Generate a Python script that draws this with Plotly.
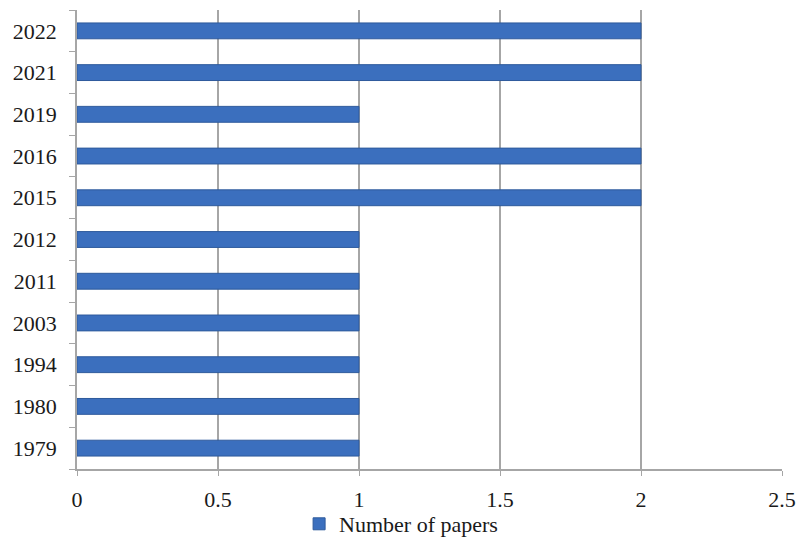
import plotly.graph_objects as go

years = ["1979", "1980", "1994", "2003", "2011", "2012", "2015", "2016", "2019", "2021", "2022"]
papers = [1, 1, 1, 1, 1, 1, 2, 2, 1, 2, 2]
x_ticks = [0, 0.5, 1, 1.5, 2, 2.5]
x_labels = ["0", "0.5", "1", "1.5", "2", "2.5"]

font = "Liberation Serif, Times New Roman, serif"

fig = go.Figure()
fig.add_trace(go.Bar(
    y=years, x=papers, orientation="h", name="Number of papers",
    marker=dict(color="#3B6FBE", line=dict(color="#2E5A9C", width=1)),
    width=0.38, showlegend=True,
))

fig.update_layout(
    width=799, height=537,
    margin=dict(l=77, r=17, t=10, b=68, autoexpand=False),
    paper_bgcolor="white", plot_bgcolor="white",
    font=dict(family=font, size=22, color="#1a1a1a"),
    showlegend=True,
    legend=dict(orientation="h", x=0.502, xanchor="center", xref="container",
                y=1 - 524 / 537, yanchor="middle", yref="container",
                font=dict(family=font, size=22, color="#1a1a1a"),
                itemwidth=30, traceorder="normal", bgcolor="rgba(0,0,0,0)"),
    xaxis=dict(range=[0, 2.5], tickvals=x_ticks, ticktext=x_labels,
               showgrid=True, gridcolor="#A6A6A6", gridwidth=1.5,
               showline=True, linecolor="#A6A6A6", linewidth=1.5,
               ticks="outside", ticklen=5, tickcolor="#A6A6A6",
               zeroline=False, fixedrange=True, ticklabelstandoff=5,
               automargin=False),
    yaxis=dict(type="category", categoryorder="array", categoryarray=years,
               showgrid=False, showline=True, linecolor="#A6A6A6", linewidth=1.5,
               ticks="outside", ticklen=6, tickcolor="#A6A6A6", tickson="boundaries",
               ticklabelstandoff=14, fixedrange=True, automargin=False),
    bargap=0.62,
)

fig.write_html("out.html")
